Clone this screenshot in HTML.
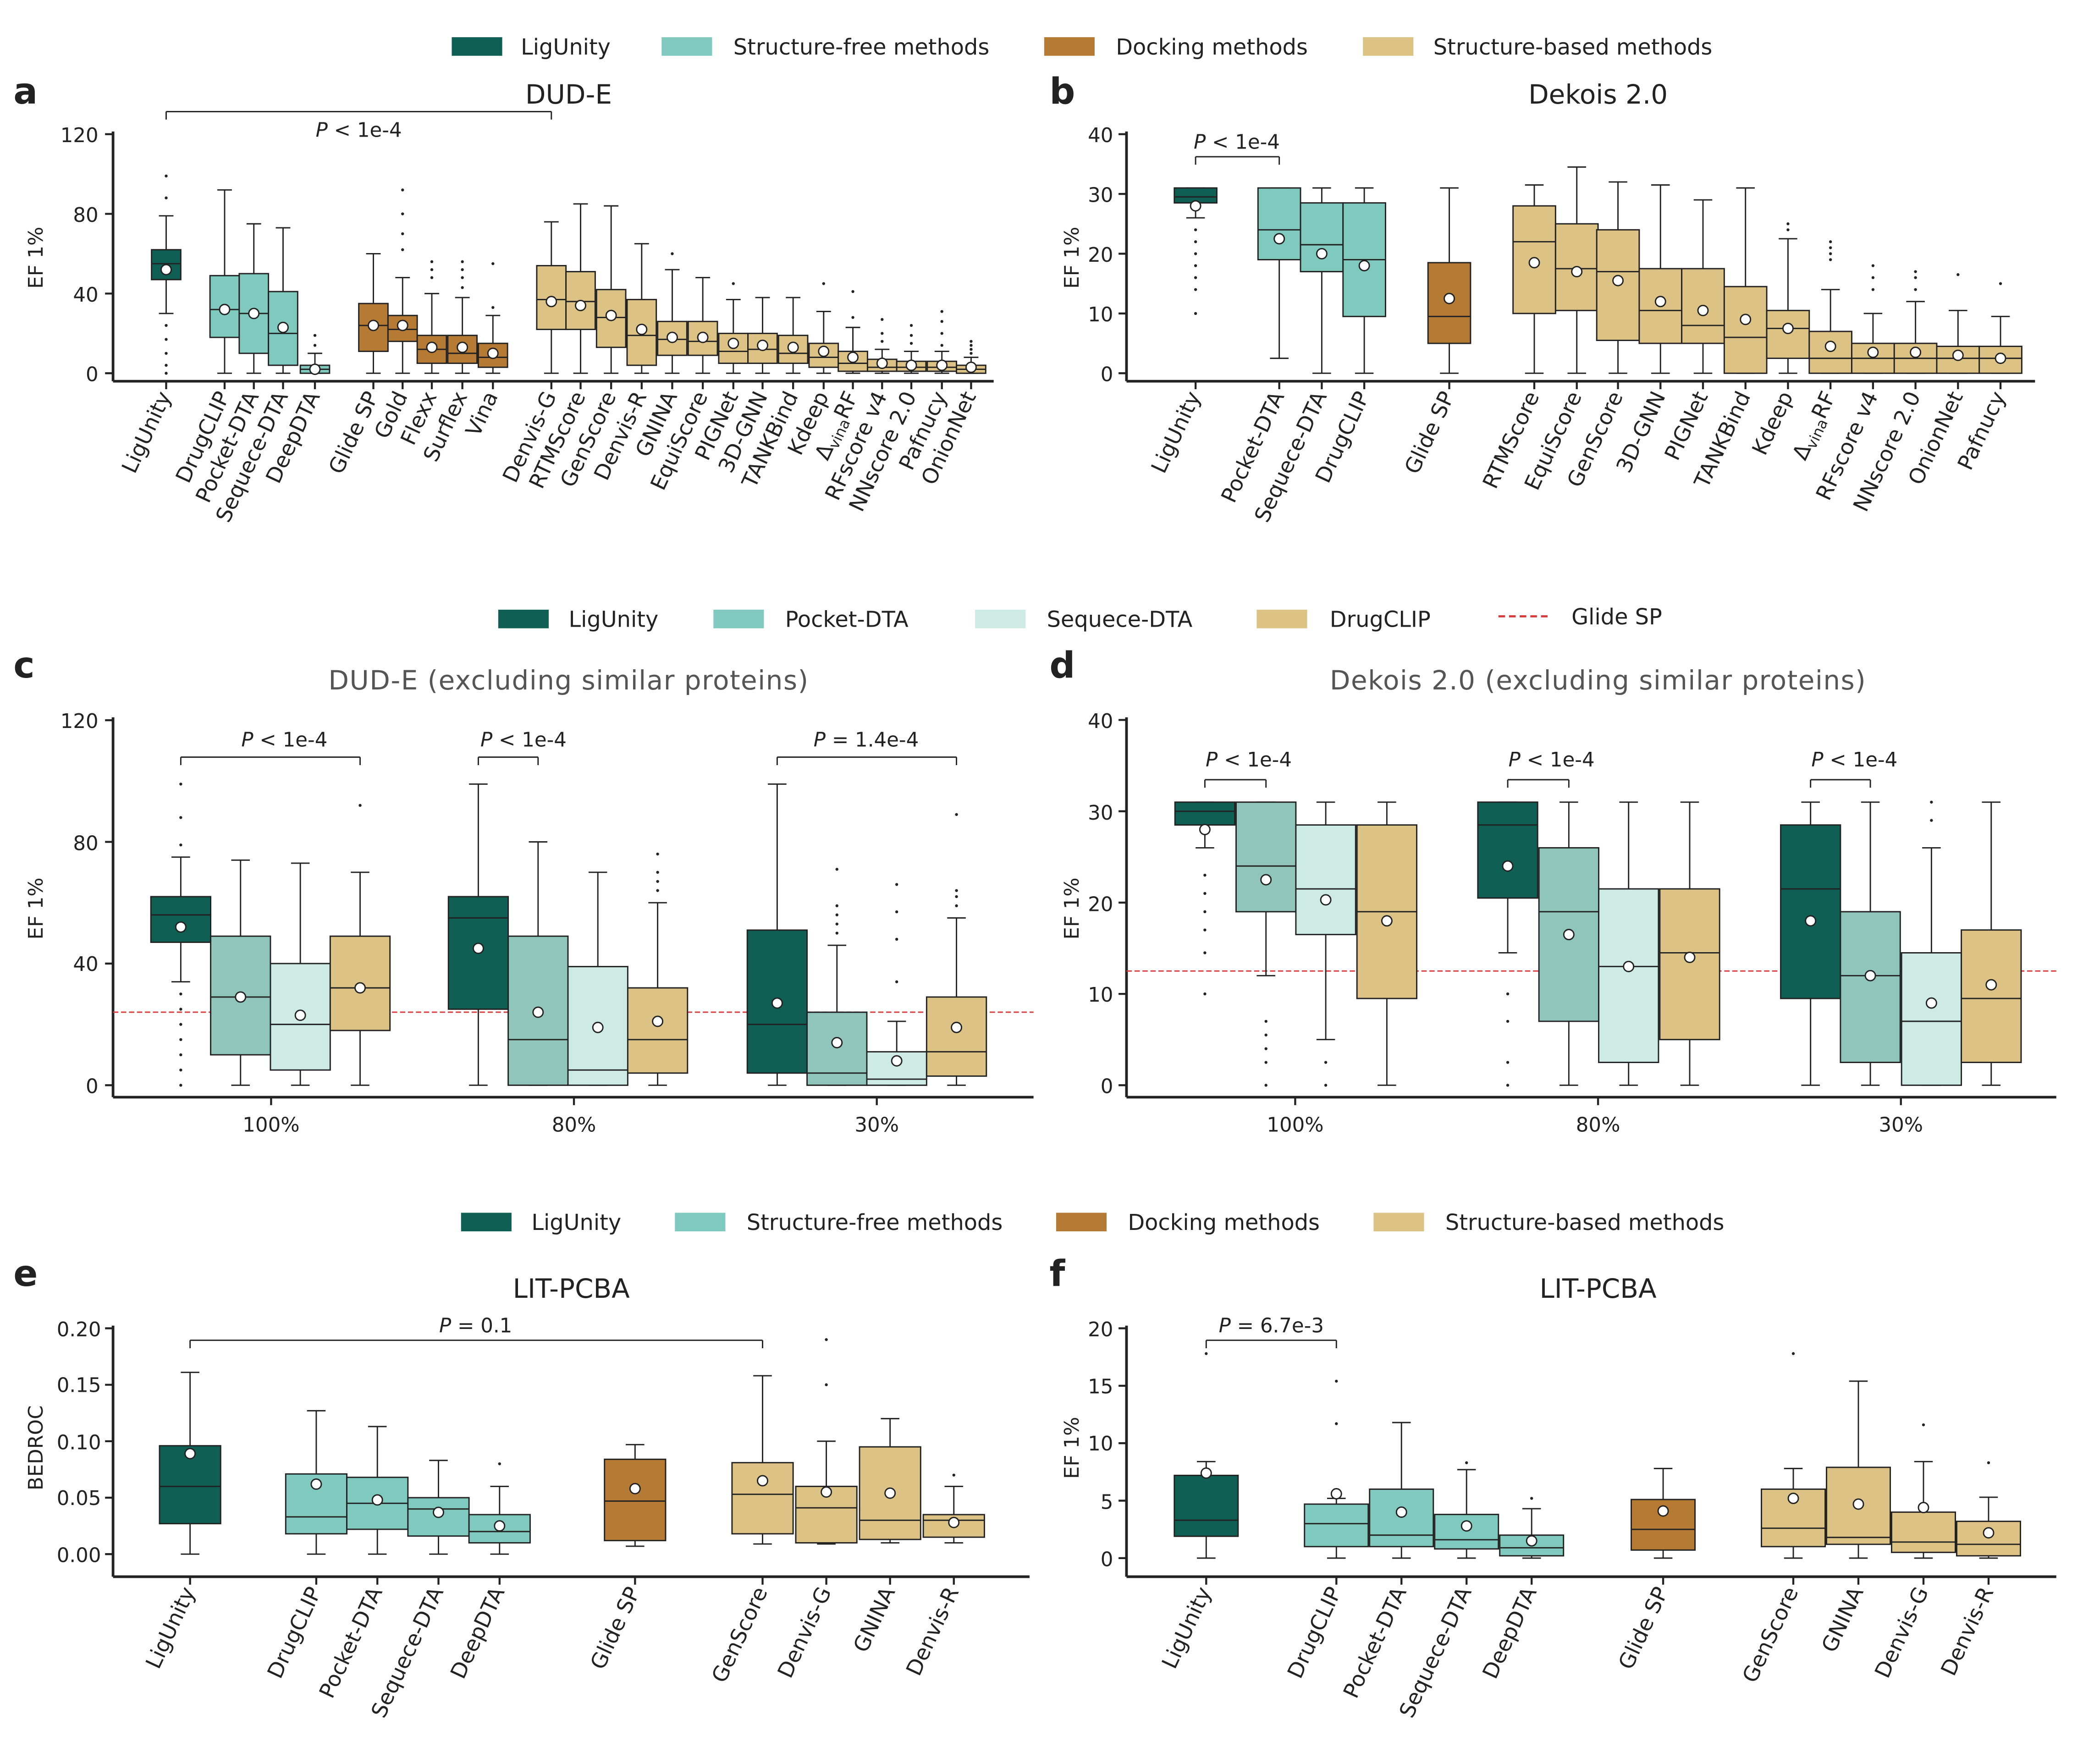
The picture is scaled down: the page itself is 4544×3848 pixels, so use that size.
<!DOCTYPE html>
<html><head><meta charset="utf-8">
<style>html,body{margin:0;padding:0;background:#fff}svg{display:block}
text{font-family:"DejaVu Sans","Liberation Sans",sans-serif;fill:#222}
.t{font-size:15px}.h{font-size:20px}.L{font-size:27px;font-weight:bold}.g{fill:#555;letter-spacing:0.5px}
.r{font-size:16px}.lg{font-size:16.5px}</style></head><body>
<svg id="s" xmlns="http://www.w3.org/2000/svg" width="4544" height="3848" viewBox="0 0 1568 1328">
<g id="boxes"></g>
<g class="lg">
<rect x="340" y="28" width="38" height="14" fill="#0f5f55"/><text x="392" y="41">LigUnity</text>
<rect x="498" y="28" width="38" height="14" fill="#80c9be"/><text x="552" y="41">Structure-free methods</text>
<rect x="786" y="28" width="38" height="14" fill="#b57a34"/><text x="840" y="41">Docking methods</text>
<rect x="1026" y="28" width="38" height="14" fill="#dcc284"/><text x="1079" y="41">Structure-based methods</text>
<rect x="375" y="459" width="38" height="14" fill="#0f5f55"/><text x="428" y="472">LigUnity</text>
<rect x="537" y="459" width="38" height="14" fill="#80c9be"/><text x="591" y="472">Pocket-DTA</text>
<rect x="734" y="459" width="38" height="14" fill="#cdeae5"/><text x="788" y="472">Sequece-DTA</text>
<rect x="946" y="459" width="38" height="14" fill="#dcc284"/><text x="1001" y="472">DrugCLIP</text>
<line x1="1128" y1="464" x2="1168" y2="464" stroke="#d9383a" stroke-width="1.6" stroke-dasharray="5,3"/><text x="1183" y="470">Glide SP</text>
<rect x="347" y="913" width="38" height="14" fill="#0f5f55"/><text x="400" y="926">LigUnity</text>
<rect x="508" y="913" width="38" height="14" fill="#80c9be"/><text x="562" y="926">Structure-free methods</text>
<rect x="795" y="913" width="38" height="14" fill="#b57a34"/><text x="849" y="926">Docking methods</text>
<rect x="1034" y="913" width="38" height="14" fill="#dcc284"/><text x="1088" y="926">Structure-based methods</text>
</g>
<text class="L" x="10" y="78">a</text><text class="L" x="790" y="78">b</text>
<text class="L" x="10" y="510">c</text><text class="L" x="790" y="510">d</text>
<text class="L" x="10" y="968">e</text><text class="L" x="790" y="968">f</text>
<text class="h" x="428" y="78" text-anchor="middle">DUD-E</text>
<text class="h" x="1203" y="78" text-anchor="middle">Dekois 2.0</text>
<text class="h g" x="428" y="519" text-anchor="middle">DUD-E (excluding similar proteins)</text>
<text class="h g" x="1203" y="519" text-anchor="middle">Dekois 2.0 (excluding similar proteins)</text>
<text class="h" x="430" y="977" text-anchor="middle">LIT-PCBA</text>
<text class="h" x="1203" y="977" text-anchor="middle">LIT-PCBA</text>
<text class="t" transform="translate(32,194) rotate(-90)" text-anchor="middle">EF 1%</text>
<text class="t" transform="translate(812,194) rotate(-90)" text-anchor="middle">EF 1%</text>
<text class="t" transform="translate(32,684) rotate(-90)" text-anchor="middle">EF 1%</text>
<text class="t" transform="translate(812,684) rotate(-90)" text-anchor="middle">EF 1%</text>
<text class="t" transform="translate(32,1090) rotate(-90)" text-anchor="middle">BEDROC</text>
<text class="t" transform="translate(812,1090) rotate(-90)" text-anchor="middle">EF 1%</text>
<g class="t" text-anchor="end">
<text x="74" y="107">120</text><text x="74" y="167">80</text><text x="74" y="227">40</text><text x="74" y="287">0</text>
<text x="838" y="107">40</text><text x="838" y="197">20</text><text x="838" y="152">30</text><text x="838" y="242">10</text><text x="838" y="287">0</text>
<text x="74" y="548">120</text><text x="74" y="640">80</text><text x="74" y="731">40</text><text x="74" y="823">0</text>
<text x="838" y="548">40</text><text x="838" y="617">30</text><text x="838" y="686">20</text><text x="838" y="754">10</text><text x="838" y="823">0</text>
<text x="76" y="1006">0.20</text><text x="76" y="1048">0.15</text><text x="76" y="1091">0.10</text><text x="76" y="1133">0.05</text><text x="76" y="1176">0.00</text>
<text x="838" y="1006">20</text><text x="838" y="1049">15</text><text x="838" y="1092">10</text><text x="838" y="1136">5</text><text x="838" y="1179">0</text>
</g>
<g class="t" text-anchor="middle">
<text x="204" y="852">100%</text><text x="432" y="852">80%</text><text x="660" y="852">30%</text>
<text x="975" y="852">100%</text><text x="1203" y="852">80%</text><text x="1431" y="852">30%</text>
</g>
<g class="t" text-anchor="middle">
<text x="270" y="103"><tspan font-style="italic">P</tspan> &lt; 1e-4</text>
<text x="931" y="112"><tspan font-style="italic">P</tspan> &lt; 1e-4</text>
<text x="214" y="562"><tspan font-style="italic">P</tspan> &lt; 1e-4</text>
<text x="394" y="562"><tspan font-style="italic">P</tspan> &lt; 1e-4</text>
<text x="652" y="562"><tspan font-style="italic">P</tspan> = 1.4e-4</text>
<text x="940" y="577"><tspan font-style="italic">P</tspan> &lt; 1e-4</text>
<text x="1168" y="577"><tspan font-style="italic">P</tspan> &lt; 1e-4</text>
<text x="1396" y="577"><tspan font-style="italic">P</tspan> &lt; 1e-4</text>
<text x="358" y="1003"><tspan font-style="italic">P</tspan> = 0.1</text>
<text x="957" y="1003"><tspan font-style="italic">P</tspan> = 6.7e-3</text>
</g>
<g class="r" text-anchor="end">
<text transform="translate(129,298) rotate(-65)">LigUnity</text>
<text transform="translate(173,298) rotate(-65)">DrugCLIP</text>
<text transform="translate(195,298) rotate(-65)">Pocket-DTA</text>
<text transform="translate(217,298) rotate(-65)">Sequece-DTA</text>
<text transform="translate(241,298) rotate(-65)">DeepDTA</text>
<text transform="translate(285,298) rotate(-65)">Glide SP</text>
<text transform="translate(307,298) rotate(-65)">Gold</text>
<text transform="translate(329,298) rotate(-65)">Flexx</text>
<text transform="translate(352,298) rotate(-65)">Surflex</text>
<text transform="translate(375,298) rotate(-65)">Vina</text>
<text transform="translate(419,298) rotate(-65)">Denvis-G</text>
<text transform="translate(441,298) rotate(-65)">RTMScore</text>
<text transform="translate(464,298) rotate(-65)">GenScore</text>
<text transform="translate(487,298) rotate(-65)">Denvis-R</text>
<text transform="translate(510,298) rotate(-65)">GNINA</text>
<text transform="translate(533,298) rotate(-65)">EquiScore</text>
<text transform="translate(556,298) rotate(-65)">PIGNet</text>
<text transform="translate(578,298) rotate(-65)">3D-GNN</text>
<text transform="translate(601,298) rotate(-65)">TANKBind</text>
<text transform="translate(624,298) rotate(-65)">Kdeep</text>
<text transform="translate(646,298) rotate(-65)">Δ<tspan font-size="11" dy="3">vina</tspan><tspan dy="-3">RF</tspan></text>
<text transform="translate(668,298) rotate(-65)">RFscore v4</text>
<text transform="translate(690,298) rotate(-65)">NNscore 2.0</text>
<text transform="translate(713,298) rotate(-65)">Pafnucy</text>
<text transform="translate(735,298) rotate(-65)">OnionNet</text>
<text transform="translate(904,298) rotate(-65)">LigUnity</text>
<text transform="translate(967,298) rotate(-65)">Pocket-DTA</text>
<text transform="translate(999,298) rotate(-65)">Sequece-DTA</text>
<text transform="translate(1031,298) rotate(-65)">DrugCLIP</text>
<text transform="translate(1095,298) rotate(-65)">Glide SP</text>
<text transform="translate(1159,298) rotate(-65)">RTMScore</text>
<text transform="translate(1191,298) rotate(-65)">EquiScore</text>
<text transform="translate(1222,298) rotate(-65)">GenScore</text>
<text transform="translate(1254,298) rotate(-65)">3D-GNN</text>
<text transform="translate(1286,298) rotate(-65)">PIGNet</text>
<text transform="translate(1318,298) rotate(-65)">TANKBind</text>
<text transform="translate(1350,298) rotate(-65)">Kdeep</text>
<text transform="translate(1382,298) rotate(-65)">Δ<tspan font-size="11" dy="3">vina</tspan><tspan dy="-3">RF</tspan></text>
<text transform="translate(1414,298) rotate(-65)">RFscore v4</text>
<text transform="translate(1446,298) rotate(-65)">NNscore 2.0</text>
<text transform="translate(1478,298) rotate(-65)">OnionNet</text>
<text transform="translate(1510,298) rotate(-65)">Pafnucy</text>
<text transform="translate(147,1198) rotate(-65)">LigUnity</text>
<text transform="translate(242,1198) rotate(-65)">DrugCLIP</text>
<text transform="translate(288,1198) rotate(-65)">Pocket-DTA</text>
<text transform="translate(334,1198) rotate(-65)">Sequece-DTA</text>
<text transform="translate(380,1198) rotate(-65)">DeepDTA</text>
<text transform="translate(482,1198) rotate(-65)">Glide SP</text>
<text transform="translate(578,1198) rotate(-65)">GenScore</text>
<text transform="translate(626,1198) rotate(-65)">Denvis-G</text>
<text transform="translate(674,1198) rotate(-65)">GNINA</text>
<text transform="translate(722,1198) rotate(-65)">Denvis-R</text>
<text transform="translate(912,1198) rotate(-65)">LigUnity</text>
<text transform="translate(1010,1198) rotate(-65)">DrugCLIP</text>
<text transform="translate(1059,1198) rotate(-65)">Pocket-DTA</text>
<text transform="translate(1108,1198) rotate(-65)">Sequece-DTA</text>
<text transform="translate(1157,1198) rotate(-65)">DeepDTA</text>
<text transform="translate(1256,1198) rotate(-65)">Glide SP</text>
<text transform="translate(1354,1198) rotate(-65)">GenScore</text>
<text transform="translate(1403,1198) rotate(-65)">GNINA</text>
<text transform="translate(1452,1198) rotate(-65)">Denvis-G</text>
<text transform="translate(1501,1198) rotate(-65)">Denvis-R</text>
</g>
</svg>
<script>
var G=document.getElementById("boxes"),h="";
var D="#0f5f55",T="#80c9be",B="#b57a34",S="#dcc284",P="#8fc5ba",Q="#cdeae5",K="#222";
function ln(x1,y1,x2,y2,w,ex){h+='<line x1="'+x1+'" y1="'+y1+'" x2="'+x2+'" y2="'+y2+'" stroke="'+(ex||K)+'" stroke-width="'+(w||1)+'"/>';}
function panel(ax){
 ln(ax.x0,ax.top-2,ax.x0,ax.ay,2);ln(ax.x0,ax.ay,ax.x1,ax.ay,2);
 ax.yt.forEach(function(v){var y=ax.y0-ax.s*v;ln(ax.x0-6,y,ax.x0,y,1.5);});
 ax.xt.forEach(function(x){ln(x,ax.ay,x,ax.ay+6,1.5);});
}
function bx(ax,cx,w,d,c,out){var Y=function(v){return ax.y0-ax.s*v};
 ln(cx,Y(d[0]),cx,Y(d[1]));ln(cx,Y(d[3]),cx,Y(d[4]));
 var cw=Math.min(w*0.25,7);ln(cx-cw,Y(d[0]),cx+cw,Y(d[0]));ln(cx-cw,Y(d[4]),cx+cw,Y(d[4]));
 h+='<rect x="'+(cx-w/2)+'" y="'+Y(d[3])+'" width="'+w+'" height="'+Math.max(Y(d[1])-Y(d[3]),0.5)+'" fill="'+c+'" stroke="'+K+'" stroke-width="1"/>';
 ln(cx-w/2,Y(d[2]),cx+w/2,Y(d[2]));
 (out||[]).forEach(function(v){h+='<circle cx="'+cx+'" cy="'+Y(v)+'" r="1.1" fill="#222"/>';});
 h+='<circle cx="'+cx+'" cy="'+Y(d[5])+'" r="3.8" fill="#fff" stroke="#222" stroke-width="1"/>';
}
function br(x1,x2,y){ln(x1,y+6,x1,y);ln(x1,y,x2,y);ln(x2,y,x2,y+6);}
var A={x0:85,x1:748,y0:281,s:1.5,ay:287,top:101,yt:[0,40,80,120],xt:[]};
var a=[[125,[30,47,55,62,79,52],D,[88,99,24,17,10,4,0]],[169,[0,18,32,49,92,32],T],[191,[0,10,30,50,75,30],T],[213,[0,4,20,41,73,23],T],[237,[0,0,2,4,10,2],T,[14,19]],
[281,[0,11,24,35,60,24],B],[303,[0,16,22,29,48,24],B,[62,70,80,92]],[325,[0,5,12,19,40,13],B,[48,52,56]],[348,[0,5,10,19,38,13],B,[43,48,52,56]],[371,[0,3,8,15,29,10],B,[33,55]],
[415,[0,22,37,54,76,36],S],[437,[0,22,36,51,85,34],S],[460,[0,13,28,42,84,29],S],[483,[0,4,19,37,65,22],S],[506,[0,9,17,26,52,18],S,[60]],[529,[0,9,16,26,48,18],S],[552,[0,5,11,20,37,15],S,[45]],[574,[0,5,12,20,38,14],S],[597,[0,5,10,19,38,13],S],[620,[0,3,8,15,31,11],S,[45]],[642,[0,1,5,11,23,8],S,[28,41]],[664,[0,1,3,7,12,5],S,[16,20,27]],[686,[0,1,3,6,11,4],S,[15,19,24]],[709,[0,1,3,6,11,4],S,[14,20,26,31]],[731,[0,0,2,4,8,3],S,[10,12,14,16]]];
a.forEach(function(b){A.xt.push(b[0]);});panel(A);a.forEach(function(b){bx(A,b[0],22,b[1],b[2],b[3]);});br(125,415,84);
var Bp={x0:848,x1:1532,y0:281,s:4.5,ay:287,top:101,yt:[0,10,20,30,40],xt:[]};
var b=[[900,[26,28.5,29.5,31,31,28],D,[24,22,20,18,16,14,10]],[963,[2.5,19,24,31,31,22.5],T],[995,[0,17,21.5,28.5,31,20],T],[1027,[0,9.5,19,28.5,31,18],T],[1091,[0,5,9.5,18.5,31,12.5],B],
[1155,[0,10,22,28,31.5,18.5],S],[1187,[0,10.5,17.5,25,34.5,17],S],[1218,[0,5.5,17,24,32,15.5],S],[1250,[0,5,10.5,17.5,31.5,12],S],[1282,[0,5,8,17.5,29,10.5],S],[1314,[0,0,6,14.5,31,9],S],[1346,[0,2.5,7.5,10.5,22.5,7.5],S,[24,25]],[1378,[0,0,2.5,7,14,4.5],S,[19,20,21,22]],[1410,[0,0,2.5,5,10,3.5],S,[14,16,18]],[1442,[0,0,2.5,5,12,3.5],S,[14,16,17]],[1474,[0,0,2.5,4.5,10.5,3],S,[16.5]],[1506,[0,0,2.5,4.5,9.5,2.5],S,[15]]];
b.forEach(function(x){Bp.xt.push(x[0]);});panel(Bp);b.forEach(function(x){bx(Bp,x[0],32,x[1],x[2],x[3]);});br(900,963,118);
var C={x0:85,x1:778,y0:817,s:2.29,ay:826,top:542,yt:[0,40,80,120],xt:[204,432,660]};panel(C);
h+='<line x1="85" y1="762" x2="778" y2="762" stroke="#d9383a" stroke-width="1" stroke-dasharray="4,2"/>';
var c=[[136,[34,47,56,62,75,52],D,[79,88,99,30,25,20,15,10,5,0]],[181,[0,10,29,49,74,29],P],[226,[0,5,20,40,73,23],Q],[271,[0,18,32,49,70,32],S,[92]],
[360,[0,25,55,62,99,45],D],[405,[0,0,15,49,80,24],P],[450,[0,0,5,39,70,19],Q],[495,[0,4,15,32,60,21],S,[64,67,70,76]],
[585,[0,4,20,51,99,27],D],[630,[0,0,4,24,46,14],P,[50,53,56,59,71]],[675,[0,0,2,11,21,8],Q,[34,48,57,66]],[720,[0,3,11,29,55,19],S,[59,62,64,89]]];
c.forEach(function(x){bx(C,x[0],45,x[1],x[2],x[3]);});br(136,271,570);br(360,405,570);br(585,720,570);
var Dp={x0:848,x1:1548,y0:817,s:6.875,ay:826,top:542,yt:[0,10,20,30,40],xt:[975,1203,1431]};panel(Dp);
h+='<line x1="848" y1="731" x2="1548" y2="731" stroke="#d9383a" stroke-width="1" stroke-dasharray="4,2"/>';
var d=[[907,[26,28.5,30,31,31,28],D,[23,21,19,17,14.5,10]],[953,[12,19,24,31,31,22.5],P,[7,5.5,4,2.5,0]],[998,[5,16.5,21.5,28.5,31,20.3],Q,[2.5,0]],[1044,[0,9.5,19,28.5,31,18],S],
[1135,[14.5,20.5,28.5,31,31,24],D,[10,7,2.5,0]],[1181,[0,7,19,26,31,16.5],P],[1226,[0,2.5,13,21.5,31,13],Q],[1272,[0,5,14.5,21.5,31,14],S],
[1363,[0,9.5,21.5,28.5,31,18],D],[1408,[0,2.5,12,19,31,12],P],[1454,[0,0,7,14.5,26,9],Q,[29,31]],[1499,[0,2.5,9.5,17,31,11],S]];
d.forEach(function(x){bx(Dp,x[0],45,x[1],x[2],x[3]);});br(907,953,587);br(1135,1181,587);br(1363,1408,587);
var E={x0:85,x1:775,y0:1170,s:850,ay:1187,top:1000,yt:[0,.05,.1,.15,.2],xt:[]};
var e=[[143,[0,.027,.06,.096,.161,.089],D],[238,[0,.018,.033,.071,.127,.062],T],[284,[0,.022,.045,.068,.113,.048],T],[330,[0,.016,.04,.05,.083,.037],T],[376,[0,.01,.02,.035,.06,.025],T,[.08]],
[478,[.007,.012,.047,.084,.097,.058],B],[574,[.009,.018,.053,.081,.158,.065],S],[622,[.009,.01,.041,.06,.1,.055],S,[.15,.19]],[670,[.01,.013,.03,.095,.12,.054],S],[718,[.01,.015,.03,.035,.06,.028],S,[.07]]];
e.forEach(function(x){E.xt.push(x[0]);});panel(E);e.forEach(function(x){bx(E,x[0],46,x[1],x[2],x[3]);});br(143,574,1009);
var F={x0:848,x1:1548,y0:1173,s:8.65,ay:1187,top:1000,yt:[0,5,10,15,20],xt:[]};
var f=[[908,[0,1.9,3.3,7.2,8.4,7.4],D,[17.8]],[1006,[0,1,3,4.7,5.2,5.6],T,[11.7,15.4]],[1055,[0,1,2,6,11.8,4],T],[1104,[0,.8,1.6,3.8,7.7,2.8],T,[8.3]],[1153,[0,.2,.9,2,4.3,1.5],T,[5.2]],
[1252,[0,.7,2.5,5.1,7.8,4.1],B],[1350,[0,1,2.6,6,7.8,5.2],S,[17.8]],[1399,[0,1.2,1.8,7.9,15.4,4.7],S],[1448,[0,.5,1.4,4,8.4,4.4],S,[11.6]],[1497,[0,.2,1.2,3.2,5.3,2.2],S,[8.3]]];
f.forEach(function(x){F.xt.push(x[0]);});panel(F);f.forEach(function(x){bx(F,x[0],48,x[1],x[2],x[3]);});br(908,1006,1009);
G.innerHTML=h;
</script>
</body></html>
